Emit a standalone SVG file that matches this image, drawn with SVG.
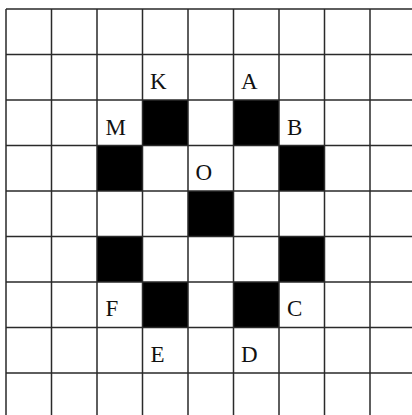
<svg xmlns="http://www.w3.org/2000/svg" width="412" height="415" viewBox="0 0 412 415">
<style>
.g{stroke:#2a2a2a;stroke-width:1.5;fill:none}
.b{fill:#000}
.t{font-family:"Liberation Serif","Times New Roman",serif;font-size:23px;fill:#111}
</style>
<rect width="412" height="415" fill="#fff"/>
<g id="cells">
<rect class="b" x="142.5" y="100" width="45.5" height="45.5"/>
<rect class="b" x="233.5" y="100" width="45.5" height="45.5"/>
<rect class="b" x="97" y="145.5" width="45.5" height="45.5"/>
<rect class="b" x="279" y="145.5" width="45.5" height="45.5"/>
<rect class="b" x="188" y="191" width="45.5" height="45.5"/>
<rect class="b" x="97" y="236.5" width="45.5" height="45.5"/>
<rect class="b" x="279" y="236.5" width="45.5" height="45.5"/>
<rect class="b" x="142.5" y="282" width="45.5" height="45.5"/>
<rect class="b" x="233.5" y="282" width="45.5" height="45.5"/>
</g>
<g id="grid" class="g">
<path d="M6 9V420M51.5 9V420M97 9V420M142.5 9V420M188 9V420M233.5 9V420M279 9V420M324.5 9V420M370 9V420M415.5 9V420"/>
<path d="M6 9H420M6 54.5H420M6 100H420M6 145.5H420M6 191H420M6 236.5H420M6 282H420M6 327.5H420M6 373H420M6 418.5H420"/>
</g>
<g id="labels" class="t">
<text x="150" y="88.5">K</text>
<text x="241" y="88.5">A</text>
<text x="105.5" y="134.5">M</text>
<text x="287" y="134.5">B</text>
<text x="195.5" y="180">O</text>
<text x="105.5" y="316">F</text>
<text x="287" y="316">C</text>
<text x="150.5" y="361.5">E</text>
<text x="241" y="361.5">D</text>
</g>
</svg>
